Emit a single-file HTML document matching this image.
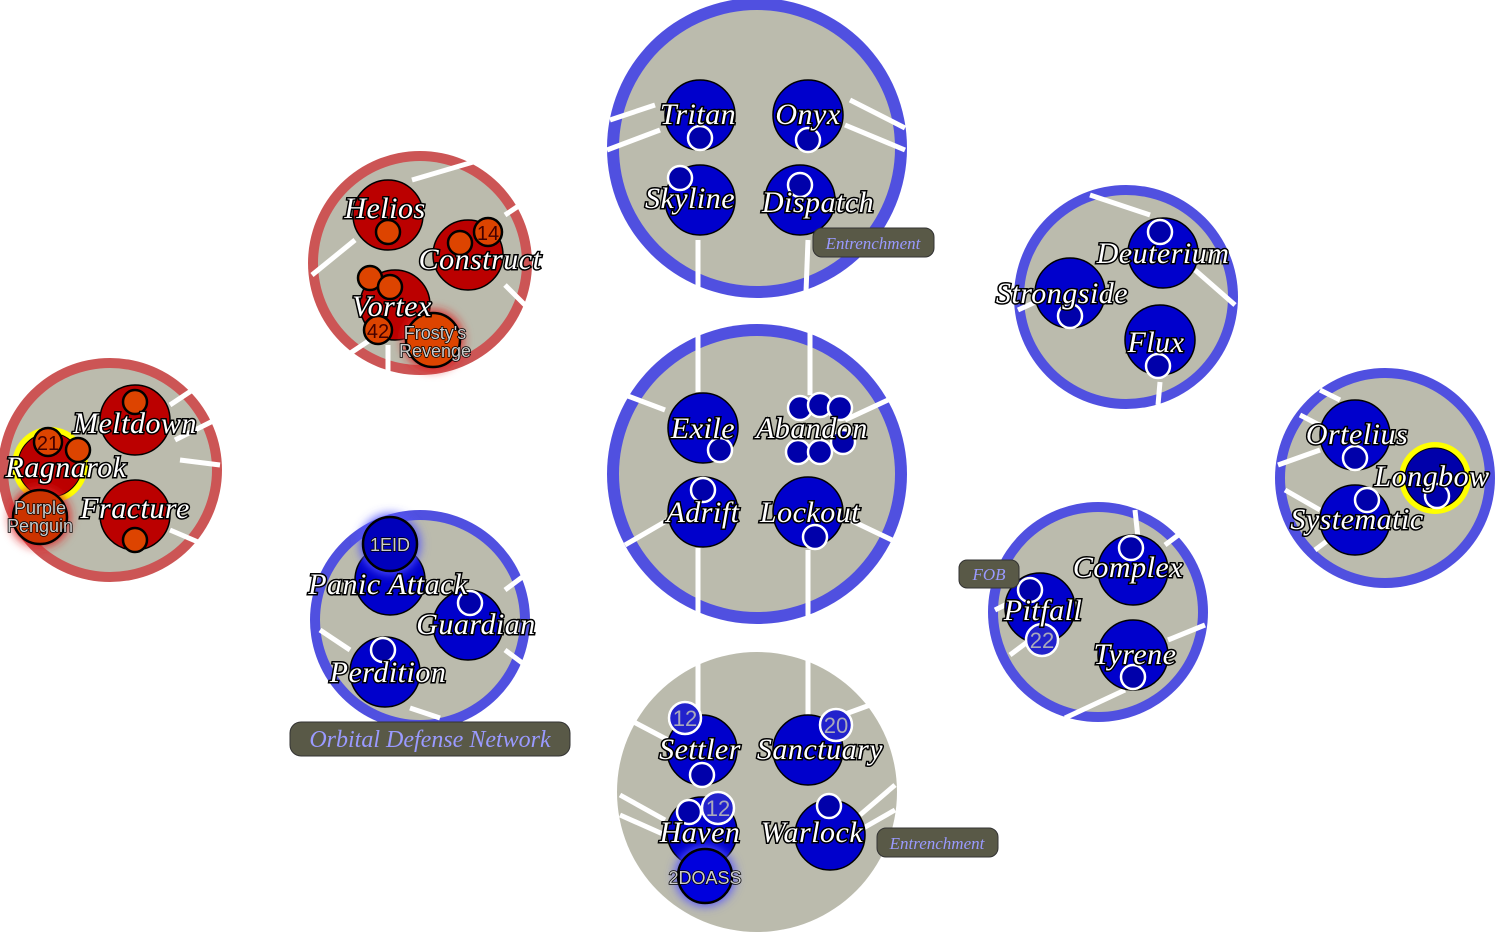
<!DOCTYPE html>
<html><head><meta charset="utf-8"><style>
html,body{margin:0;padding:0;background:#fff;}
svg{display:block}
.t{font-family:"Liberation Serif",serif;font-style:italic;font-size:30px;letter-spacing:0.5px;fill:#fff;stroke:#000;stroke-width:3px;paint-order:stroke;text-anchor:middle;}
.s{font-family:"Liberation Sans",sans-serif;font-size:18px;fill:#ccc;stroke:#000;stroke-width:1.5px;paint-order:stroke;text-anchor:middle;}
.lab{font-family:"Liberation Serif",serif;font-style:italic;fill:#9a9aff;text-anchor:middle;}
</style></head><body>
<svg width="1497" height="942" viewBox="0 0 1497 942" xmlns="http://www.w3.org/2000/svg">
<defs>
<filter id="gl" x="-50%" y="-50%" width="200%" height="200%"><feGaussianBlur stdDeviation="5"/></filter>
</defs>
<g stroke="none">
<circle cx="757" cy="148" r="150" fill="#5050e0"/><circle cx="757" cy="148" r="138" fill="#bbbbad"/>
<circle cx="757" cy="474" r="150" fill="#5050e0"/><circle cx="757" cy="474" r="138" fill="#bbbbad"/>
<circle cx="757" cy="792" r="140" fill="#bbbbad"/>
<circle cx="420" cy="263" r="112" fill="#cc5555"/><circle cx="420" cy="263" r="102" fill="#bbbbad"/>
<circle cx="110" cy="470" r="112" fill="#cc5555"/><circle cx="110" cy="470" r="102" fill="#bbbbad"/>
<circle cx="420" cy="620" r="110" fill="#5050e0"/><circle cx="420" cy="620" r="100" fill="#bbbbad"/>
<circle cx="1126" cy="297" r="112" fill="#5050e0"/><circle cx="1126" cy="297" r="102" fill="#bbbbad"/>
<circle cx="1098" cy="612" r="110" fill="#5050e0"/><circle cx="1098" cy="612" r="100" fill="#bbbbad"/>
<circle cx="1385" cy="478" r="110" fill="#5050e0"/><circle cx="1385" cy="478" r="100" fill="#bbbbad"/>
</g>
<g stroke="#fff" stroke-width="5" fill="none">
<line x1="607" y1="150" x2="660" y2="130"/><line x1="610" y1="120" x2="655" y2="105"/>
<line x1="850" y1="100" x2="905" y2="128"/><line x1="845" y1="125" x2="905" y2="150"/>
<line x1="698" y1="240" x2="698" y2="290"/><line x1="808" y1="240" x2="806" y2="292"/>
<line x1="698" y1="330" x2="698" y2="392"/><line x1="810" y1="332" x2="810" y2="395"/>
<line x1="612" y1="390" x2="665" y2="410"/><line x1="845" y1="420" x2="888" y2="400"/>
<line x1="625" y1="545" x2="668" y2="520"/><line x1="850" y1="520" x2="892" y2="540"/>
<line x1="698" y1="548" x2="698" y2="620"/><line x1="808" y1="550" x2="808" y2="620"/>
<line x1="698" y1="660" x2="698" y2="715"/><line x1="808" y1="660" x2="808" y2="715"/>
<line x1="630" y1="720" x2="668" y2="740"/><line x1="840" y1="716" x2="870" y2="705"/>
<line x1="620" y1="795" x2="665" y2="820"/><line x1="620" y1="815" x2="665" y2="835"/>
<line x1="860" y1="815" x2="895" y2="785"/><line x1="860" y1="830" x2="895" y2="810"/>
<line x1="412" y1="180" x2="480" y2="160"/><line x1="312" y1="275" x2="355" y2="240"/>
<line x1="505" y1="215" x2="520" y2="205"/><line x1="505" y1="285" x2="525" y2="305"/>
<line x1="340" y1="360" x2="370" y2="340"/><line x1="388" y1="345" x2="388" y2="372"/>
<line x1="170" y1="405" x2="200" y2="385"/><line x1="175" y1="440" x2="215" y2="420"/>
<line x1="180" y1="460" x2="220" y2="465"/><line x1="170" y1="530" x2="205" y2="545"/>
<line x1="505" y1="590" x2="525" y2="575"/><line x1="505" y1="650" x2="525" y2="665"/>
<line x1="410" y1="708" x2="440" y2="718"/><line x1="320" y1="630" x2="350" y2="650"/>
<line x1="1090" y1="195" x2="1150" y2="215"/><line x1="1195" y1="270" x2="1235" y2="305"/>
<line x1="1160" y1="382" x2="1158" y2="405"/><line x1="1018" y1="310" x2="1040" y2="300"/>
<line x1="1135" y1="510" x2="1138" y2="538"/><line x1="1165" y1="545" x2="1185" y2="530"/>
<line x1="1168" y1="640" x2="1205" y2="625"/><line x1="1065" y1="718" x2="1125" y2="690"/>
<line x1="995" y1="610" x2="1015" y2="600"/><line x1="1010" y1="655" x2="1030" y2="640"/>
<line x1="1320" y1="390" x2="1340" y2="400"/><line x1="1300" y1="415" x2="1325" y2="428"/>
<line x1="1278" y1="465" x2="1320" y2="450"/><line x1="1285" y1="490" x2="1320" y2="510"/>
<line x1="1315" y1="550" x2="1335" y2="535"/>
</g>
<g fill="#0000cc" stroke="#000" stroke-width="1.5">
<circle cx="700" cy="115" r="35"/><circle cx="808" cy="115" r="35"/><circle cx="700" cy="200" r="35"/><circle cx="800" cy="200" r="35"/>
<circle cx="703" cy="428" r="35"/><circle cx="703" cy="512" r="35"/><circle cx="808" cy="512" r="35"/>
<circle cx="702" cy="750" r="35"/><circle cx="808" cy="750" r="35"/><circle cx="702" cy="832" r="35"/><circle cx="830" cy="835" r="35"/>
<circle cx="390" cy="580" r="35"/><circle cx="468" cy="625" r="35"/><circle cx="385" cy="672" r="35"/>
<circle cx="1163" cy="253" r="35"/><circle cx="1070" cy="293" r="35"/><circle cx="1160" cy="340" r="35"/>
<circle cx="1133" cy="570" r="35"/><circle cx="1040" cy="608" r="35"/><circle cx="1133" cy="655" r="35"/>
<circle cx="1355" cy="435" r="35"/><circle cx="1355" cy="520" r="35"/>
</g>
<circle cx="1435" cy="478" r="36" fill="#ffff00"/><circle cx="1435" cy="478" r="30" fill="#0000aa" stroke="#000"/>
<g fill="#0000aa" stroke="#fff" stroke-width="2.5">
<circle cx="700" cy="138" r="12"/><circle cx="808" cy="140" r="12"/><circle cx="680" cy="178" r="12"/><circle cx="800" cy="185" r="12"/>
<circle cx="720" cy="450" r="12"/><circle cx="703" cy="490" r="12"/><circle cx="815" cy="537" r="12"/>
<circle cx="800" cy="408" r="12"/><circle cx="820" cy="405" r="12"/><circle cx="840" cy="408" r="12"/>
<circle cx="798" cy="452" r="12"/><circle cx="820" cy="452" r="12"/><circle cx="843" cy="442" r="12"/>
<circle cx="702" cy="775" r="12"/><circle cx="689" cy="812" r="12"/><circle cx="829" cy="806" r="12"/>
<circle cx="470" cy="603" r="12"/><circle cx="383" cy="650" r="12"/>
<circle cx="1160" cy="232" r="12"/><circle cx="1070" cy="316" r="12"/><circle cx="1158" cy="366" r="12"/>
<circle cx="1131" cy="548" r="12"/><circle cx="1030" cy="590" r="12"/><circle cx="1133" cy="677" r="12"/>
<circle cx="1355" cy="458" r="12"/><circle cx="1367" cy="500" r="12"/><circle cx="1437" cy="496" r="12"/>
</g>
<g fill="#2222cc" stroke="#fff" stroke-width="2.5">
<circle cx="685" cy="718" r="16"/><circle cx="836" cy="725" r="16"/><circle cx="718" cy="808" r="16"/><circle cx="1042" cy="640" r="16"/>
</g>
<g font-family="Liberation Sans,sans-serif" font-size="22" fill="#aab" text-anchor="middle">
<text x="685" y="726">12</text><text x="836" y="733">20</text><text x="718" y="816">12</text><text x="1042" y="648">22</text>
</g>
<g fill="#bb0000" stroke="#000" stroke-width="1.5">
<circle cx="388" cy="215" r="35"/><circle cx="468" cy="255" r="35"/><circle cx="395" cy="305" r="35"/>
<circle cx="135" cy="420" r="35"/><circle cx="135" cy="515" r="35"/>
</g>
<circle cx="50" cy="465" r="38" fill="#ffff00"/><circle cx="50" cy="465" r="32" fill="#bb0000" stroke="#000"/>
<g fill="#dd4400" stroke="#000" stroke-width="2.5">
<circle cx="388" cy="232" r="12"/><circle cx="460" cy="243" r="12"/><circle cx="370" cy="278" r="12"/><circle cx="390" cy="287" r="12"/>
<circle cx="488" cy="232" r="14"/><circle cx="378" cy="330" r="14"/>
<circle cx="135" cy="402" r="12"/><circle cx="135" cy="540" r="12"/><circle cx="78" cy="450" r="12"/><circle cx="48" cy="442" r="14"/>
</g>
<g font-family="Liberation Sans,sans-serif" font-size="20" fill="#400" text-anchor="middle">
<text x="488" y="240">14</text><text x="378" y="338">42</text><text x="48" y="450">21</text>
</g>
<circle cx="433" cy="340" r="30" fill="#dd2222" filter="url(#gl)"/><circle cx="433" cy="340" r="27" fill="#dd4400" stroke="#000" stroke-width="2.5"/>
<circle cx="40" cy="517" r="30" fill="#dd2222" filter="url(#gl)"/><circle cx="40" cy="517" r="27" fill="#cc3300" stroke="#000" stroke-width="2.5"/>
<circle cx="390" cy="544" r="30" fill="#5555ff" filter="url(#gl)"/><circle cx="390" cy="544" r="27" fill="#0000bb" stroke="#000" stroke-width="2.5"/>
<circle cx="705" cy="876" r="30" fill="#5555ff" filter="url(#gl)"/><circle cx="705" cy="876" r="27" fill="#0000dd" stroke="#000" stroke-width="2.5"/>
<text class="s" x="435" y="339">Frosty's</text><text class="s" x="435" y="357">Revenge</text>
<text class="s" x="40" y="514">Purple</text><text class="s" x="40" y="532">Penguin</text>
<text class="s" x="390" y="551">1EID</text><text class="s" x="705" y="884">2DOASS</text>
<text class="t" x="698" y="124">Tritan</text><text class="t" x="808" y="124">Onyx</text>
<text class="t" x="690" y="208">Skyline</text><text class="t" x="818" y="212">Dispatch</text>
<text class="t" x="703" y="438">Exile</text><text class="t" x="812" y="438">Abandon</text>
<text class="t" x="703" y="522">Adrift</text><text class="t" x="810" y="522">Lockout</text>
<text class="t" x="700" y="759">Settler</text><text class="t" x="820" y="759">Sanctuary</text>
<text class="t" x="700" y="842">Haven</text><text class="t" x="812" y="842">Warlock</text>
<text class="t" x="385" y="218">Helios</text><text class="t" x="480" y="269">Construct</text><text class="t" x="392" y="316">Vortex</text>
<text class="t" x="135" y="433">Meltdown</text><text class="t" x="66" y="477">Ragnarok</text><text class="t" x="135" y="518">Fracture</text>
<text class="t" x="388" y="594">Panic Attack</text><text class="t" x="476" y="634">Guardian</text><text class="t" x="388" y="682">Perdition</text>
<text class="t" x="1163" y="263">Deuterium</text><text class="t" x="1062" y="303">Strongside</text><text class="t" x="1156" y="352">Flux</text>
<text class="t" x="1128" y="577">Complex</text><text class="t" x="1043" y="620">Pitfall</text><text class="t" x="1135" y="664">Tyrene</text>
<text class="t" x="1357" y="444">Ortelius</text><text class="t" x="1432" y="486">Longbow</text><text class="t" x="1357" y="529">Systematic</text>
<rect x="813" y="228" width="121" height="29" rx="9" fill="#595947" stroke="#333"/><text class="lab" x="873" y="249" font-size="17">Entrenchment</text>
<rect x="877" y="828" width="121" height="29" rx="9" fill="#595947" stroke="#333"/><text class="lab" x="937" y="849" font-size="17">Entrenchment</text>
<rect x="959" y="560" width="60" height="28" rx="8" fill="#595947" stroke="#333"/><text class="lab" x="989" y="580" font-size="17">FOB</text>
<rect x="290" y="722" width="280" height="34" rx="11" fill="#595947" stroke="#333"/><text class="lab" x="430" y="747" font-size="24">Orbital Defense Network</text>
</svg>
</body></html>
